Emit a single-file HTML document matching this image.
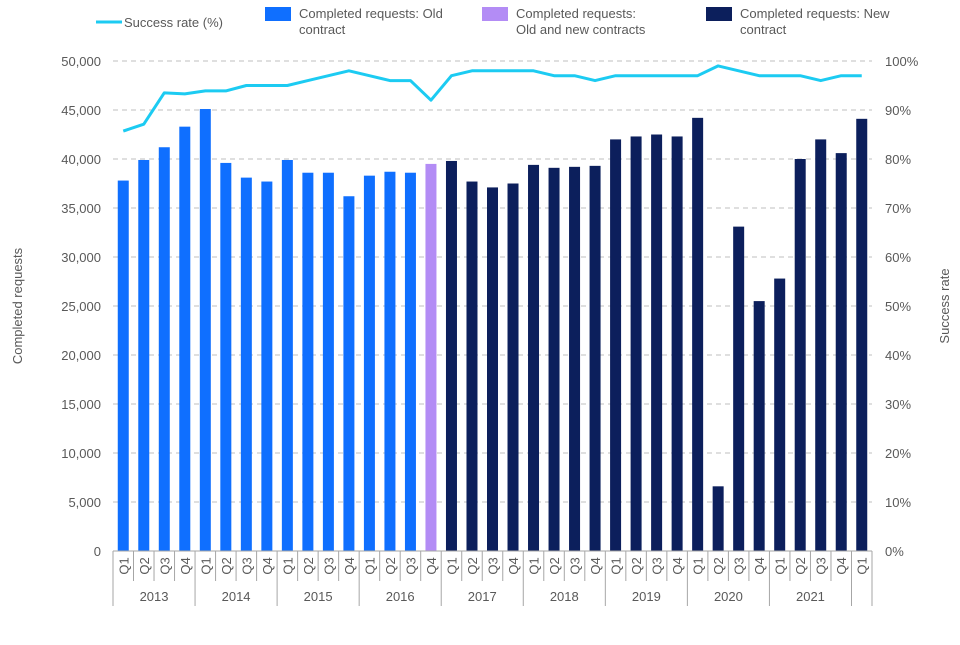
<!DOCTYPE html>
<html><head><meta charset="utf-8"><style>
body{margin:0;background:#fff;font-family:"Liberation Sans",sans-serif;}
svg text{font-family:"Liberation Sans",sans-serif;fill:#595959;font-size:13px;}
</style></head><body>
<svg id="c" width="960" height="640">
<g>
<line x1="96" y1="22" x2="122" y2="22" stroke="#1ccbf2" stroke-width="3"/>
<text x="124" y="27">Success rate (%)</text>
<rect x="265" y="7" width="26" height="14" fill="#0f6fff"/>
<text x="299" y="18"><tspan x="299">Completed requests: Old</tspan><tspan x="299" dy="16">contract</tspan></text>
<rect x="482" y="7" width="26" height="14" fill="#b38cf5"/>
<text x="516" y="18"><tspan x="516">Completed requests:</tspan><tspan x="516" dy="16">Old and new contracts</tspan></text>
<rect x="706" y="7" width="26" height="14" fill="#0c1f5c"/>
<text x="740" y="18"><tspan x="740">Completed requests: New</tspan><tspan x="740" dy="16">contract</tspan></text>
</g>
<text transform="translate(22,306) rotate(-90)" text-anchor="middle">Completed requests</text>
<text transform="translate(949,306) rotate(-90)" text-anchor="middle">Success rate</text>
<g id="grid"></g><g id="bars"></g><g id="line"></g><g id="axes"></g>
</svg>
<script>
const quarters=["Q1","Q2","Q3","Q4"];
const years=["2013","2014","2015","2016","2017","2018","2019","2020","2021"];
const requests=[37800,39900,41200,43300,45100,39600,38100,37700,39900,38600,38600,36200,38300,38700,38600,39500,39800,37700,37100,37500,39400,39100,39200,39300,42000,42300,42500,42300,44200,6600,33100,25500,27800,40000,42000,40600,44100];
const contract=["old","old","old","old","old","old","old","old","old","old","old","old","old","old","old","both","new","new","new","new","new","new","new","new","new","new","new","new","new","new","new","new","new","new","new","new","new"];
const successRate=[85.7,87.1,93.5,93.3,93.9,93.9,95,95,95,96,97,98,97,96,96,92,97,98,98,98,98,97,97,96,97,97,97,97,97,99,98,97,97,97,96,97,97];
const leftTicks=[0,5000,10000,15000,20000,25000,30000,35000,40000,45000,50000];
const rightTicks=[0,10,20,30,40,50,60,70,80,90,100];
const colors={old:"#0f6fff",both:"#b38cf5",new:"#0c1f5c"};
const X0=113,X1=872,Y0=551,Y1=61,n=requests.length,cw=(X1-X0)/n;
const yL=v=>Y0-(v/50000)*(Y0-Y1), yR=v=>Y0-(v/100)*(Y0-Y1), xc=i=>X0+cw*(i+0.5);
const NS="http://www.w3.org/2000/svg";
function mk(t,a,p,txt){const e=document.createElementNS(NS,t);for(const k in a)e.setAttribute(k,a[k]);if(txt!==undefined)e.textContent=txt;document.getElementById(p).appendChild(e);return e;}
leftTicks.forEach((v,i)=>{
 if(v>0){const g=mk("line",{x1:X0,x2:X1,y1:yL(v),y2:yL(v),stroke:"#bfbfbf","stroke-dasharray":"5,4"},"grid");
 
 }
 const t=mk("text",{x:101,y:yL(v)+5,"text-anchor":"end"},"axes",v.toLocaleString("en-US"));
 
 
});
rightTicks.forEach(v=>{
 const t=mk("text",{x:885,y:yR(v)+5},"axes",v+"%");
 
 
});
requests.forEach((v,i)=>{
 const b=mk("rect",{x:xc(i)-5.5,y:yL(v),width:11,height:Y0-yL(v),fill:colors[contract[i]]},"bars");
 
 
});
const ln=mk("polyline",{points:successRate.map((v,i)=>xc(i)+","+yR(v)).join(" "),fill:"none",stroke:"#1ccbf2","stroke-width":3,"stroke-linejoin":"round"},"line");


const ax=mk("line",{x1:X0,x2:X1,y1:Y0,y2:Y0,stroke:"#a6a6a6"},"axes");


for(let i=0;i<=n;i++){
 const x=X0+cw*i, yr=(i%4===0||i===n)?606:581;
 const l=mk("line",{x1:x,x2:x,y1:Y0,y2:yr,stroke:"#a6a6a6"},"axes");
 
 
}
requests.forEach((v,i)=>{
 const t=mk("text",{transform:`translate(${xc(i)+5},566) rotate(-90)`,"text-anchor":"middle"},"axes",quarters[i%4]);
 
 
});
years.forEach((y,j)=>{
 const t=mk("text",{x:X0+cw*(4*j+2),y:601,"text-anchor":"middle"},"axes",y);
 
 
});
</script>
</body></html>
